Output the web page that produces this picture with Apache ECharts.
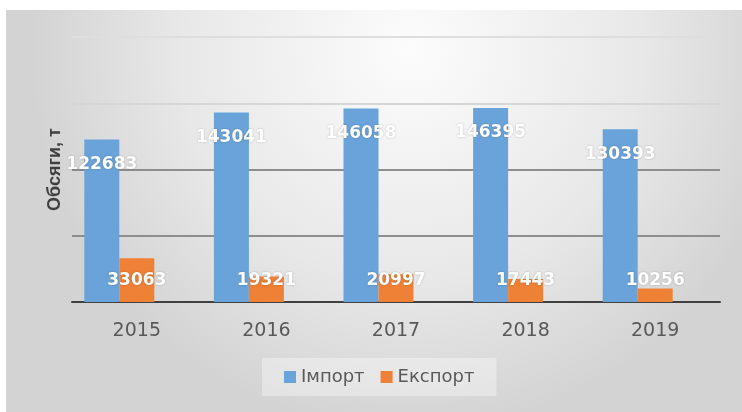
<!DOCTYPE html>
<html>
<head>
<meta charset="utf-8">
<script src="https://cdn.jsdelivr.net/npm/echarts@6/dist/echarts.min.js"></script>
<style>
  html, body { margin: 0; padding: 0; background: #fff; }
  #chart { position: absolute; left: 6px; top: 10px; width: 736px; height: 402px; }
</style>
</head>
<body>
<div id="chart"></div>
<script>
// Обсяги імпорту / експорту, т
const years = ["2015", "2016", "2017", "2018", "2019"];
const importVals = [122683, 143041, 146058, 146395, 130393];
const exportVals = [33063, 19321, 20997, 17443, 10256];
const seriesNames = ["Імпорт", "Експорт"];

const chart = echarts.init(document.getElementById("chart"), null, { renderer: "canvas" });

const labelFont = {
  show: true,
  color: "#fff",
  fontFamily: "DejaVu Sans",
  fontWeight: "bold",
  fontSize: 17,
  lineHeight: 20,
  textShadowColor: "rgba(0,0,0,0.25)",
  textShadowBlur: 2,
};

chart.setOption({
  backgroundColor: new echarts.graphic.RadialGradient(0.55, 0.1, 0.95, [
    { offset: 0, color: "#fcfcfc" },
    { offset: 0.6, color: "#e8e8e8" },
    { offset: 1, color: "#d3d3d3" },
  ]),
  animation: false,
  grid: { left: 66, right: 22, top: 27, bottom: 110 },
  legend: {
    data: seriesNames,
    left: 256, top: 348,
    padding: [10, 22],
    backgroundColor: "rgba(255,255,255,0.35)",
    itemWidth: 12, itemHeight: 12, itemGap: 16,
    icon: "rect",
    textStyle: { color: "#595959", fontSize: 18, fontFamily: "DejaVu Sans" },
  },
  xAxis: {
    type: "category",
    data: years,
    axisLine: { lineStyle: { color: "#404040", width: 2 } },
    axisTick: { show: false },
    axisLabel: { color: "#595959", fontSize: 19, fontFamily: "DejaVu Sans", margin: 20 },
  },
  yAxis: {
    type: "value",
    min: 0, max: 200000, interval: 50000,
    name: "Обсяги, т",
    nameLocation: "middle",
    nameGap: 8,
    nameTextStyle: { color: "#404040", fontSize: 18, fontWeight: "bold", fontFamily: "Liberation Sans" },
    axisLabel: { show: false },
    axisLine: { show: false },
    axisTick: { show: false },
    splitLine: {
      lineStyle: { color: ["#404040", "#8e8e8e", "#8e8e8e", "#d6d6d6", "#dedede"], width: 2 },
    },
  },
  series: [
    {
      name: seriesNames[0], type: "bar", data: importVals,
      barWidth: 35, barGap: "0%",
      itemStyle: { color: "#6aa3d9" },
      label: Object.assign({}, labelFont, { position: "insideTop", distance: 15 }),
    },
    {
      name: seriesNames[1], type: "bar", data: exportVals,
      barWidth: 35, barGap: "0%",
      itemStyle: { color: "#ef8137" },
      label: Object.assign({}, labelFont, { position: "insideBottom", distance: 11 }),
    },
    // порожній третій ряд, як у вихідній діаграмі (зсуває пари стовпців ліворуч)
    { name: "", type: "bar", data: [], barWidth: 35, barGap: "0%" },
  ],
});
</script>
</body>
</html>
